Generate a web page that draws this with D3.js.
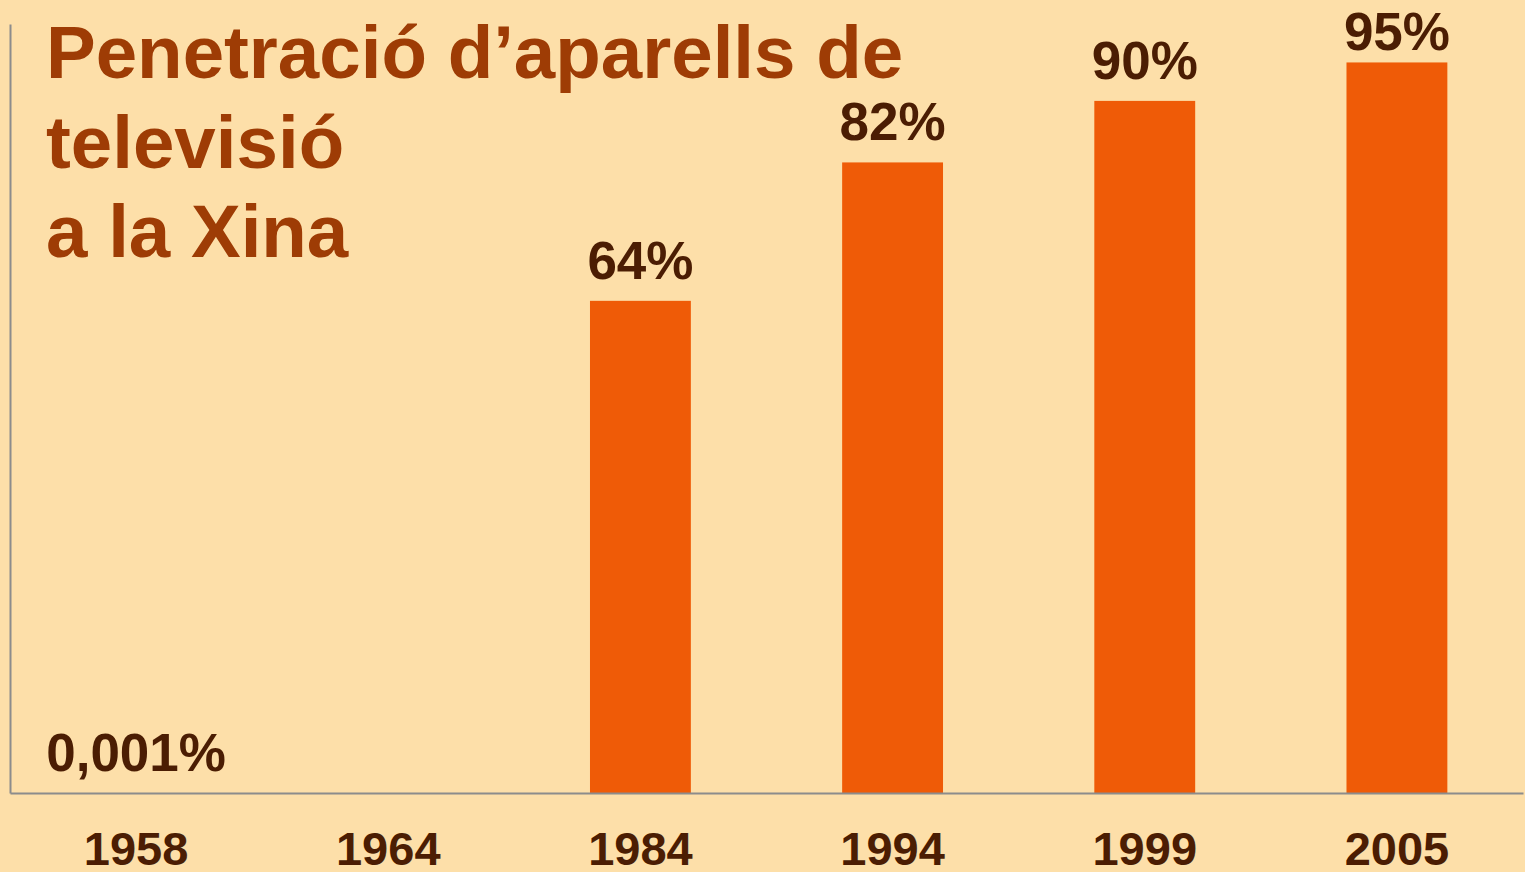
<!DOCTYPE html>
<html>
<head>
<meta charset="utf-8">
<script src="https://cdn.jsdelivr.net/npm/d3@7"></script>
<style>
  html, body { margin: 0; padding: 0; background: #FDDFA9; }
  svg { display: block; }
  text { font-family: "Liberation Sans", Arial, sans-serif; font-weight: bold; }
</style>
</head>
<body>
<div id="chart"></div>
<script>
/* ============================
   DATA
============================ */
const years = ["1958", "1964", "1984", "1994", "1999", "2005"];
const values = [0.001, null, 64, 82, 90, 95];
const valueLabels = ["0,001%", "", "64%", "82%", "90%", "95%"];
const titleLines = ["Penetració d’aparells de", "televisió", "a la Xina"];

/* ============================
   LAYOUT
============================ */
const W = 1525, H = 872;
const x0 = 10, x1 = 1523;
const yBase = 793, yTop = 24;

const svg = d3.select("#chart")
  .append("svg")
  .attr("width", W)
  .attr("height", H);

svg.append("rect")
  .attr("width", W).attr("height", H)
  .attr("fill", "#FDDFA9");

const x = d3.scaleBand()
  .domain(years)
  .range([x0, x1])
  .paddingInner(0.6)
  .paddingOuter(0.3);

const y = d3.scaleLinear()
  .domain([0, 100])
  .range([yBase, yTop]);

const rows = years.map((yr, i) => ({ yr, v: values[i], lab: valueLabels[i] }));

// barras
svg.append("g")
  .selectAll("rect")
  .data(rows.filter(d => d.v != null))
  .enter()
  .append("rect")
  .attr("x", d => x(d.yr))
  .attr("width", x.bandwidth())
  .attr("y", d => y(d.v))
  .attr("height", d => yBase - y(d.v))
  .attr("fill", "#EF5B07");

// ejes
const xAxis = svg.append("g")
  .attr("transform", `translate(0,${yBase})`)
  .call(d3.axisBottom(x).tickSize(0).tickSizeOuter(0));

xAxis.select(".domain")
  .attr("stroke", "#8C8C8C")
  .attr("stroke-width", 2);

xAxis.selectAll("text")
  .attr("y", 72)
  .attr("dy", null)
  .attr("font-size", 47)
  .attr("font-family", "'Liberation Sans', Arial, sans-serif")
  .attr("font-weight", "bold")
  .attr("fill", "#4B1D03");

const yAxis = svg.append("g")
  .attr("transform", `translate(${x0},0)`)
  .call(d3.axisLeft(y).tickValues([]).tickSizeOuter(0));

yAxis.select(".domain")
  .attr("stroke", "#8C8C8C")
  .attr("stroke-width", 2);

// etiquetas de valor (la de 95% queda pegada arriba)
svg.append("g")
  .selectAll("text")
  .data(rows.filter(d => d.lab))
  .enter()
  .append("text")
  .attr("x", d => x(d.yr) + x.bandwidth() / 2)
  .attr("y", d => Math.max(y(d.v) - 22, 50))
  .attr("text-anchor", "middle")
  .attr("font-size", 53)
  .attr("fill", "#4B1D03")
  .text(d => d.lab);

// titulo
svg.append("g")
  .selectAll("text")
  .data(titleLines)
  .enter()
  .append("text")
  .attr("x", 46)
  .attr("y", (d, i) => 78 + i * 89.5)
  .attr("font-size", 74.5)
  .attr("fill", "#9E3C05")
  .text(d => d);
</script>
</body>
</html>
